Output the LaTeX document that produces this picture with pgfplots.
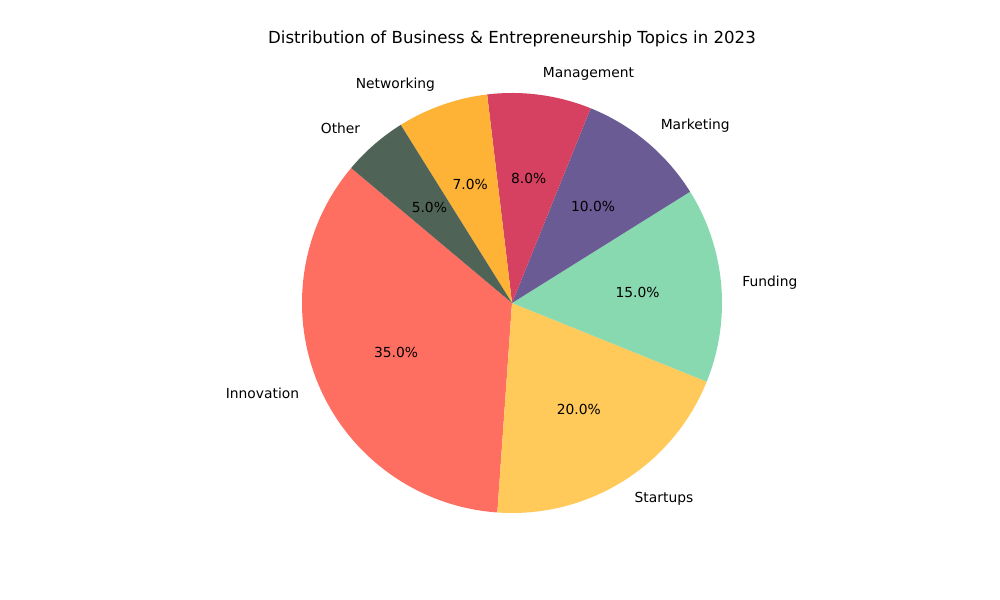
\documentclass[border=0pt]{standalone}
\usepackage{pgfplots}
\pgfplotsset{compat=1.18}
\usepackage{fontspec}
\setmainfont{DejaVu Sans}
\definecolor{cInn}{HTML}{FF6F61}
\definecolor{cSta}{HTML}{FFCA5A}
\definecolor{cFun}{HTML}{88D8B0}
\definecolor{cMar}{HTML}{6B5B95}
\definecolor{cMan}{HTML}{D64161}
\definecolor{cNet}{HTML}{FEB236}
\definecolor{cOth}{HTML}{4F6457}
\newlength\R
\setlength\R{53.34mm}
% #1 colour, #2 cumulative percent before, #3 percent, #4 label, #5 label anchor
\newcommand\slice[5]{%
  \fill[#1] (axis cs:512,297) -- ++({140+3.6*#2}:\R) arc[start angle={140+3.6*#2}, delta angle={3.6*#3}, radius=\R] -- cycle;
  \path (axis cs:512,297) ++({140+3.6*(#2+#3/2)}:{1.1\R}) node[anchor=#5,font=\fontsize{10}{12}\selectfont,inner sep=0pt] {#4};
  \path (axis cs:512,297) ++({140+3.6*(#2+#3/2)}:{0.6\R}) node[font=\fontsize{10}{12}\selectfont,inner sep=0pt] {#3.0\%};
}
\begin{document}
\begin{tikzpicture}
\begin{axis}[
  x=0.254mm, y=0.254mm,
  xmin=0, xmax=1000, ymin=0, ymax=600,
  hide axis, clip=false,
  scale only axis,
]
\path (axis cs:0,0) rectangle (axis cs:1000,600);
\slice{cInn}{0}{35}{Innovation}{east}
\slice{cSta}{35}{20}{Startups}{west}
\slice{cFun}{55}{15}{Funding}{west}
\slice{cMar}{70}{10}{Marketing}{west}
\slice{cMan}{80}{8}{Management}{west}
\slice{cNet}{88}{7}{Networking}{east}
\slice{cOth}{95}{5}{Other}{east}
\node[font=\fontsize{12}{14}\selectfont] at (axis cs:512,561) {Distribution of Business \& Entrepreneurship Topics in 2023};
\end{axis}
\end{tikzpicture}
\end{document}
